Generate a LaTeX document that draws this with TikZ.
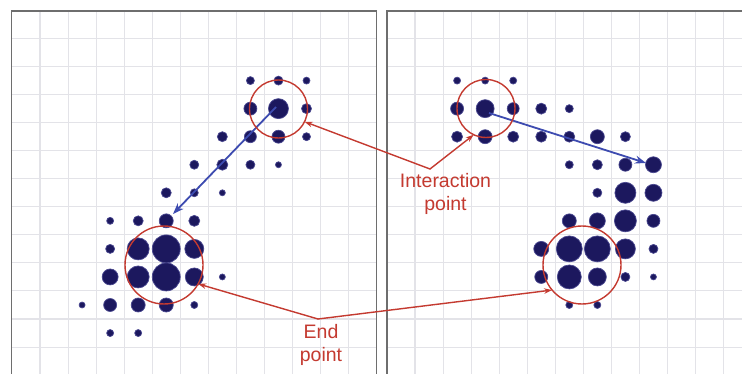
\documentclass[tikz,border=0pt]{standalone}
\usepackage{fontspec}
\setmainfont{Liberation Sans}
\usetikzlibrary{arrows.meta}
\definecolor{gridgray}{HTML}{E3E3E8}
\definecolor{framegray}{HTML}{6E6E6E}
\definecolor{dotnavy}{HTML}{1C185E}
\definecolor{dothalo}{HTML}{4A4890}
\definecolor{arrowblue}{HTML}{3D4BB0}
\definecolor{markred}{HTML}{C43A30}

\tikzset{
  gridline/.style={gridgray, line width=1.1pt},
  frameline/.style={framegray, line width=1.8pt},
  dot/.style={fill=dotnavy, draw=dothalo, line width=0.7pt},
  ring/.style={circle, draw=markred, line width=1.4pt, inner sep=0pt, outer sep=0pt},
  motion/.style={arrowblue, line width=1.8pt, -{Stealth[length=11pt,width=8pt]}},
  callout/.style={markred, line width=1.4pt, line cap=round, -{Stealth[length=8pt,width=5.5pt]}},
  caption/.style={text=markred, align=center, font=\fontsize{19.5}{23}\selectfont, inner sep=0pt},
}

\begin{document}
\begin{tikzpicture}[x=1pt,y=-1pt]
\useasboundingbox (0,0) rectangle (742,374);
\fill[white] (0,0) rectangle (742,374);

\begin{scope}
  \clip (0,0) rectangle (742,374);
  % grid of the left panel
  \foreach \k in {0,...,11} {
    \draw[gridline] (40+28.05*\k,11) -- (40+28.05*\k,380);
    \draw[gridline] (11.5,38.5+28.05*\k) -- (376.5,38.5+28.05*\k);
  }
  % grid of the right panel
  \foreach \k in {0,...,11} {
    \draw[gridline] (415+28.05*\k,11) -- (415+28.05*\k,380);
    \draw[gridline] (387,38.5+28.05*\k) -- (750,38.5+28.05*\k);
  }
  % panel frames, open at the bottom
  \draw[frameline] (11.5,380) -- (11.5,11) -- (376.5,11) -- (376.5,380);
  \draw[frameline] (387,380) -- (387,11) -- (750,11);
\end{scope}

% left panel: column / row / radius
\foreach \c/\r/\s in {
  8/2/4, 9/2/4.5, 10/2/3.5,
  8/3/6.5, 9/3/10, 10/3/5,
  7/4/5, 8/4/6, 9/4/6.5, 10/4/4,
  6/5/4.5, 7/5/5.5, 8/5/4.5, 9/5/3,
  5/6/5, 6/6/4, 7/6/3,
  3/7/3.5, 4/7/5, 5/7/7, 6/7/5.5,
  3/8/4.5, 4/8/11, 5/8/14, 6/8/9.5,
  3/9/8, 4/9/11, 5/9/14, 6/9/9, 7/9/3,
  2/10/3, 3/10/6.5, 4/10/7, 5/10/7, 6/10/3.5,
  3/11/3.5, 4/11/3.5}
  \path[dot] (26+28.05*\c, 24.5+28.05*\r) circle[radius=\s pt];

% right panel: column / row / radius
\foreach \c/\r/\s in {
  2/2/3.5, 3/2/3.5, 4/2/3.5,
  2/3/6.5, 3/3/9, 4/3/6, 5/3/5.5, 6/3/4,
  2/4/5.5, 3/4/7, 4/4/5.5, 5/4/5.5, 6/4/5.5, 7/4/7, 8/4/5,
  6/5/4, 7/5/5, 8/5/6.5, 9/5/8,
  7/6/4.5, 8/6/10.5, 9/6/8.5,
  6/7/7, 7/7/8, 8/7/11, 9/7/6.5,
  5/8/7.5, 6/8/13, 7/8/13, 8/8/10, 9/8/4.5,
  5/9/6.5, 6/9/12, 7/9/9, 8/9/4.5, 9/9/3,
  6/10/3.5, 7/10/3.5}
  \path[dot] (401+28.05*\c, 24.5+28.05*\r) circle[radius=\s pt];

% motion arrows
\coordinate (mL0) at (276,107);
\coordinate (mL1) at (173,214);
\coordinate (mR0) at (489,113);
\coordinate (mR1) at (646,163);
\draw[motion] (mL0) -- (mL1);
\draw[motion] (mR0) -- (mR1);

% highlighted regions
\node[ring, minimum size=58pt] (ipL) at (278.5,109) {};
\node[ring, minimum size=58pt] (ipR) at (486,108.5) {};
\node[ring, minimum size=78pt] (epL) at (164,265) {};
\node[ring, minimum size=78pt] (epR) at (582,265) {};

% captions and their pointers
\node[caption] (ipT) at (445.5,193.5) {Interaction\\point};
\node[caption] (epT) at (321,344.5) {End\\point};
\coordinate (ipV) at (430,169);
\coordinate (epV) at (318,319);
\draw[callout] (ipV) -- (ipL.334);
\draw[callout] (ipV) -- (ipR.245);
\draw[callout] (epV) -- (epL.331);
\draw[callout] (epV) -- (epR.220);
\end{tikzpicture}
\end{document}
